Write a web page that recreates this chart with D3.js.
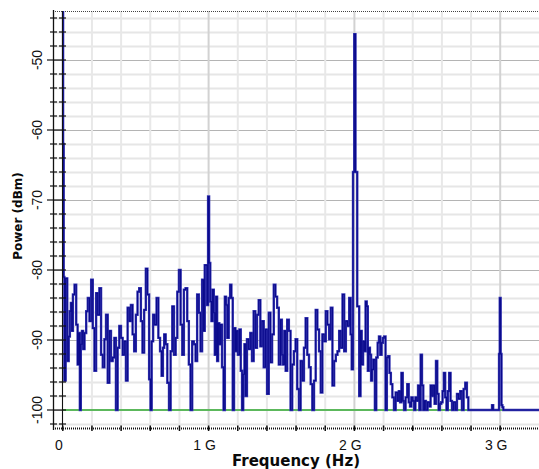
<!DOCTYPE html>
<html><head><meta charset="utf-8">
<script src="https://cdn.jsdelivr.net/npm/d3@7"></script>
<style>body{margin:0;background:#fff} svg{display:block}</style>
</head><body><svg id="c" width="539" height="469"></svg>
<script>
// Frequency in GHz (trace vertices) and measured power in dBm
const freqGHz = [
0,0.004,0.008,0.014,0.025,0.036,0.045,0.052,0.059,0.064,0.075,0.086,0.098,0.105,0.114,0.120,0.127,0.136,0.143,0.155,
0.166,0.177,0.189,0.200,0.211,0.223,0.234,0.245,0.257,0.268,0.280,0.291,0.302,0.314,0.325,0.336,0.348,0.359,0.370,0.382,
0.393,0.405,0.416,0.427,0.439,0.450,0.461,0.473,0.484,0.495,0.507,0.518,0.530,0.541,0.552,0.564,0.575,0.586,0.598,0.605,
0.614,0.625,0.636,0.650,0.661,0.673,0.682,0.691,0.700,0.711,0.723,0.734,0.745,0.757,0.768,0.780,0.791,0.802,0.814,0.825,
0.836,0.848,0.859,0.870,0.882,0.893,0.905,0.916,0.927,0.939,0.950,0.961,0.970,0.977,0.986,0.993,1.000,1.007,1.016,1.023,
1.032,1.039,1.046,1.055,1.062,1.069,1.078,1.087,1.097,1.108,1.115,1.124,1.133,1.143,1.152,1.161,1.170,1.179,1.189,1.195,
1.207,1.216,1.225,1.234,1.241,1.251,1.257,1.269,1.280,1.292,1.303,1.315,1.326,1.338,1.349,1.361,1.372,1.384,1.395,1.407,
1.418,1.430,1.441,1.453,1.464,1.476,1.487,1.499,1.506,1.515,1.524,1.533,1.545,1.556,1.568,1.579,1.591,1.602,1.614,1.625,
1.637,1.648,1.660,1.671,1.683,1.694,1.706,1.717,1.729,1.740,1.752,1.763,1.775,1.786,1.798,1.809,1.821,1.832,1.844,1.855,
1.867,1.878,1.890,1.901,1.913,1.924,1.936,1.947,1.959,1.970,1.977,1.986,1.995,2.003,2.012,2.027,2.039,2.045,2.055,2.064,
2.073,2.080,2.089,2.095,2.102,2.111,2.118,2.125,2.136,2.145,2.155,2.164,2.173,2.182,2.191,2.200,2.209,2.218,2.227,2.236,
2.245,2.255,2.266,2.277,2.289,2.300,2.309,2.318,2.327,2.336,2.345,2.357,2.368,2.377,2.386,2.395,2.405,2.414,2.423,2.432,
2.441,2.450,2.459,2.468,2.477,2.486,2.495,2.509,2.518,2.527,2.536,2.545,2.555,2.564,2.573,2.582,2.591,2.600,2.609,2.618,
2.627,2.636,2.645,2.655,2.664,2.675,2.686,2.698,2.709,2.720,2.732,2.743,2.755,2.766,2.777,2.786,2.940,2.948,2.956,2.990,
2.994,3.000,3.006,3.012,3.018,3.025,3.300
];
const powerDbm = [
-40,-62,-81,-95.8,-81.2,-93.0,-89.5,-85.9,-84.7,-88.7,-83.5,-82.1,-87.8,-93.5,-89.0,-100,-90.6,-88.7,-91.3,-89.0,
-85.9,-84.0,-87.3,-81.4,-88.3,-94.4,-83.3,-86.4,-82.6,-92.1,-93.9,-89.9,-86.4,-96.1,-88.7,-93.0,-92.5,-89.7,-100,-91.1,
-88.0,-89.7,-92.1,-90.2,-95.8,-85.4,-87.3,-85.0,-89.2,-91.6,-86.4,-83.1,-82.6,-87.3,-91.8,-85.7,-79.8,-83.5,-95.6,-100,
-90.2,-86.4,-87.8,-84.0,-89.7,-91.6,-95.1,-91.1,-89.2,-90.6,-96.1,-100,-91.6,-85.2,-92.1,-89.7,-83.1,-80.0,-87.8,-92.1,
-82.8,-82.6,-87.3,-93.5,-100,-90.2,-90.6,-93.0,-83.5,-86.1,-91.6,-81.4,-88.7,-79.3,-79.3,-85.0,-69.5,-79.0,-84.5,-87.3,
-82.8,-86.1,-92.1,-83.8,-93.0,-87.6,-90.6,-87.8,-93.9,-100,-83.8,-85.0,-89.7,-84.0,-82.1,-84.0,-100,-88.3,-91.6,-88.7,
-92.1,-88.5,-94.4,-100,-94.9,-90.6,-98.0,-89.9,-91.3,-89.0,-93.0,-85.9,-91.1,-86.4,-84.3,-90.9,-87.3,-93.9,-88.5,-97.7,
-86.1,-93.2,-89.2,-82.1,-83.8,-85.4,-93.5,-87.1,-92.1,-93.5,-88.7,-94.4,-87.1,-88.7,-100,-93.5,-91.6,-89.9,-97.0,-100,
-93.0,-95.8,-91.1,-86.9,-92.1,-93.9,-96.3,-100,-95.8,-85.7,-88.5,-91.6,-97.5,-89.2,-90.2,-85.9,-87.8,-89.9,-85.4,-96.5,
-93.0,-92.1,-91.6,-88.7,-91.1,-83.5,-91.6,-87.3,-88.0,-84.0,-89.2,-94.2,-66,-46.3,-66,-85.2,-98.0,-88.7,-93.5,-90.2,
-91.6,-84.5,-85.2,-94.4,-91.1,-92.1,-95.8,-94.2,-92.8,-100,-92.5,-90.4,-89.5,-92.1,-90.4,-89.7,-89.5,-100,-92.5,-92.3,
-94.7,-96.3,-98.2,-100,-97.5,-98.7,-97.3,-98.9,-94.7,-98.7,-100,-98.2,-96.3,-98.9,-99.5,-98.2,-98.7,-100,-98.2,-98.7,
-96.5,-100,-92.1,-96.5,-100,-98.7,-100,-98.9,-99.5,-96.5,-98.0,-96.5,-99.1,-93.0,-97.7,-100,-99.1,-98.9,-97.3,-94.7,
-98.2,-100,-97.3,-94.7,-98.7,-100,-98.9,-100,-97.7,-98.4,-97.3,-100,-97.0,-96.1,-98.2,-100,-100,-99.3,-100,-100,
-92,-84,-92,-99.3,-99.6,-100,-100
];
const thresholdDbm = -100;
const yTickValues = [-100,-90,-80,-70,-60,-50];
const xTickValues = [0,1,2,3];
const xTickLabels = ["0","1 G","2 G","3 G"];
const xTitle = "Frequency (Hz)";
const yTitle = "Power (dBm)";

const svg = d3.select("#c");
const L = 53, T = 11, B = 428, R = 546;
const x = d3.scaleLinear().domain([0, 3]).range([62.8, 500.2]);
const y = d3.scaleLinear().domain([-100, -50]).range([410, 60]);

// grid
const g = svg.append("g");
const minorY = d3.range(-102, -43, 2);
g.selectAll(".hy").data(minorY).join("line")
  .attr("x1", L).attr("x2", R)
  .attr("y1", d => Math.round(y(d)) + 0.5).attr("y2", d => Math.round(y(d)) + 0.5)
  .attr("stroke", d => d % 10 === 0 ? "#b4b4b4" : "#e6e6e6")
  .attr("stroke-width", d => d % 10 === 0 ? 1.2 : 2);
const minorX = d3.range(0, 16).map(i => i * 0.2);
g.selectAll(".vx").data(minorX.filter(d => d > 0.01)).join("line")
  .attr("x1", d => x(d)).attr("x2", d => x(d))
  .attr("y1", T).attr("y2", B)
  .attr("stroke", d => Math.abs(d - Math.round(d)) < 0.01 ? "#d2d2d2" : "#e8e8e8")
  .attr("stroke-width", 2);

// top dotted border
svg.append("line").attr("x1", 55).attr("x2", 539).attr("y1", T + 0.5).attr("y2", T + 0.5)
  .attr("stroke", "#444").attr("stroke-dasharray", "1,1");

// threshold line
svg.append("line").attr("x1", x(0)).attr("x2", R).attr("y1", y(thresholdDbm)).attr("y2", y(thresholdDbm))
  .attr("stroke", "#5cb85c").attr("stroke-width", 2);

// trace
svg.append("clipPath").attr("id", "clp").append("rect")
  .attr("x", L).attr("y", T).attr("width", R - L).attr("height", B - T);
const pts = freqGHz.map((f, i) => [f, powerDbm[i]]);
svg.append("path").datum(pts)
  .attr("clip-path", "url(#clp)")
  .attr("fill", "none").attr("stroke", "#3a3ab4").attr("stroke-width", 2.4)
  .attr("stroke-linejoin", "miter")
  .attr("d", d3.line().curve(d3.curveStep).x(d => x(d[0])).y(d => y(d[1])));
svg.append("path").datum(pts)
  .attr("clip-path", "url(#clp)")
  .attr("fill", "none").attr("stroke", "#0a0a8c").attr("stroke-width", 1.1)
  .attr("stroke-linejoin", "miter")
  .attr("d", d3.line().curve(d3.curveStep).x(d => x(d[0])).y(d => y(d[1])));

// left axes (frame line and zero line) with ticks
const ax = svg.append("g").attr("stroke", "#111");
ax.append("line").attr("x1", L + 0.5).attr("x2", L + 0.5).attr("y1", T - 1).attr("y2", B + 2).attr("stroke-width", 1.3);
ax.append("line").attr("x1", x(0) - 0.3).attr("x2", x(0) - 0.3).attr("y1", T).attr("y2", B).attr("stroke-width", 1.1);
const allY = d3.range(-102, -43, 2);
ax.selectAll(".tk").data(allY).join("line")
  .attr("x1", d => d % 10 === 0 ? 47 : 50).attr("x2", d => d % 10 === 0 ? 66 : 57)
  .attr("y1", d => y(d)).attr("y2", d => y(d)).attr("stroke-width", 1.2);
ax.selectAll(".tk2").data(allY.filter(d => d % 10 !== 0)).join("line")
  .attr("x1", 59).attr("x2", 66)
  .attr("y1", d => y(d)).attr("y2", d => y(d)).attr("stroke-width", 1.2);

// bottom axis
svg.append("line").attr("x1", L).attr("x2", 539).attr("y1", B + 0.5).attr("y2", B + 0.5)
  .attr("stroke", "#111").attr("stroke-width", 2).attr("stroke-dasharray", "1,1");
svg.selectAll(".bt").data(minorX).join("line")
  .attr("x1", d => x(d)).attr("x2", d => x(d)).attr("y1", B - 2.5).attr("y2", B + 3)
  .attr("stroke", "#111").attr("stroke-width", 1.5);

// tick labels
svg.selectAll(".yl").data(yTickValues).join("text")
  .attr("transform", d => `translate(37,${y(d)}) rotate(-90)`)
  .attr("text-anchor", "middle").attr("dy", "0.35em")
  .attr("font-family", "'Liberation Sans', Arial, sans-serif").attr("font-size", 14).attr("fill", "#111")
  .text(d => d);
svg.selectAll(".xl").data(xTickValues).join("text")
  .attr("x", d => x(d) - 4).attr("y", 450)
  .attr("text-anchor", "middle")
  .attr("font-family", "'Liberation Sans', Arial, sans-serif").attr("font-size", 14).attr("fill", "#111")
  .text((d, i) => xTickLabels[i]);

// titles
svg.append("text").attr("x", 296).attr("y", 466).attr("text-anchor", "middle")
  .attr("font-family", "'DejaVu Sans', Verdana, sans-serif").attr("font-weight", "bold").attr("font-size", 15)
  .attr("fill", "#0a0a0a").text(xTitle);
svg.append("text").attr("transform", "translate(18,216) rotate(-90)").attr("text-anchor", "middle").attr("dy", "0.35em")
  .attr("font-family", "'DejaVu Sans', Verdana, sans-serif").attr("font-weight", "bold").attr("font-size", 12)
  .attr("fill", "#0a0a0a").text(yTitle);
</script></body></html>
